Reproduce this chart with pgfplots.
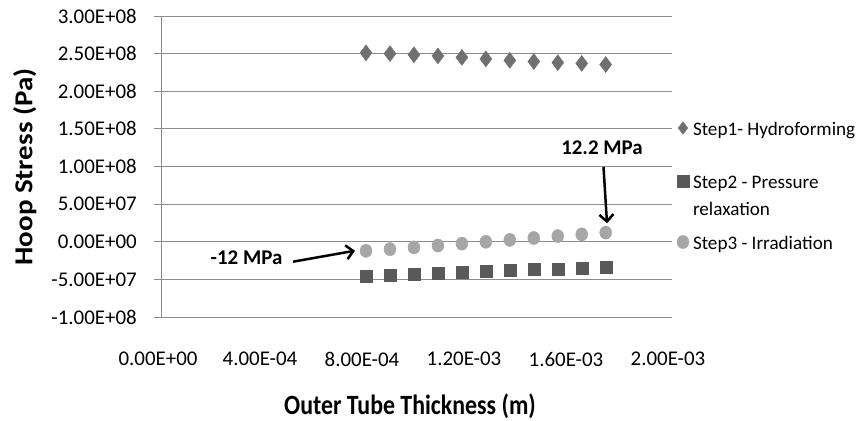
\documentclass[border=0pt]{standalone}
\usepackage{pgfplots}
\pgfplotsset{compat=1.18}
\usepackage{fontspec}
\setmainfont{Carlito}
\usetikzlibrary{arrows.meta}
\definecolor{gridc}{RGB}{140,140,140}
\definecolor{c1}{RGB}{112,112,112}
\definecolor{c2}{RGB}{89,89,89}
\definecolor{c3}{RGB}{166,166,166}
\pgfplotsset{
  mylegend/.style n args={3}{legend image code/.code={\path[draw=none, fill=none] (0bp,-#2) rectangle (0bp,#3); \draw[##1, #1] plot coordinates {(0bp,7bp)};}},
}
\begin{document}
\begin{tikzpicture}
\begin{axis}[
  at={(0bp,0bp)}, anchor=south west,
  width=510bp, height=301bp, scale only axis,
  xmin=0, xmax=2e-3, ymin=-1e8, ymax=3e8,
  xtick={0,4e-4,8e-4,1.2e-3,1.6e-3,2e-3},
  xticklabels={0.00E+00,4.00E-04,8.00E-04,1.20E-03,1.60E-03,2.00E-03},
  ytick={-1e8,-5e7,0,5e7,1e8,1.5e8,2e8,2.5e8,3e8},
  yticklabels={-1.00E+08,-5.00E+07,0.00E+00,5.00E+07,1.00E+08,1.50E+08,2.00E+08,2.50E+08,3.00E+08},
  scaled ticks=false,
  axis x line*=bottom, axis y line*=left,
  axis line style={gridc, line width=1bp, -},
  ymajorgrids, major grid style={gridc, line width=1bp},
  xtick style={draw=none},
  ytick style={gridc, line width=1bp},
  ytick align=outside, major tick length=8bp,
  tick label style={font=\fontsize{21}{25}\selectfont, text=black},
  yticklabel style={anchor=east, inner sep=0pt, xshift=-17bp},
  xticklabel style={anchor=north, inner sep=0pt, yshift=-35bp, xshift=-4bp},
  clip=false,
  legend style={at={(1,1)}, anchor=north west, xshift=5bp, yshift=-103bp,
    draw=none, fill=none, inner sep=0pt, outer sep=0pt, row sep=0pt,
    font=\fontsize{19.2}{23}\selectfont,
    nodes={inner sep=0pt, outer sep=0pt},
    cells={anchor=base west},
    /tikz/every odd column/.append style={column sep=4bp}},
]
\addplot[only marks, mylegend={mark options={scale=0.8}}{37.5bp}{16bp},
  mark=diamond*, mark size=8bp, color=c1, mark options={draw=c1, fill=c1}]
  coordinates {(8.00e-4,2.51e8)(8.94e-4,2.50e8)(9.88e-4,2.485e8)(1.082e-3,2.47e8)(1.176e-3,2.45e8)(1.27e-3,2.43e8)(1.364e-3,2.41e8)(1.458e-3,2.395e8)(1.552e-3,2.38e8)(1.646e-3,2.37e8)(1.74e-3,2.355e8)};
\addlegendentry{Step1- Hydroforming}
\addplot[only marks, mylegend={}{11bp}{16bp},
  mark=square*, mark size=6bp, color=c2, mark options={draw=c2, fill=c2}]
  coordinates {(8.00e-4,-4.55e7)(8.94e-4,-4.43e7)(9.88e-4,-4.31e7)(1.082e-3,-4.19e7)(1.176e-3,-4.07e7)(1.27e-3,-3.95e7)(1.364e-3,-3.83e7)(1.458e-3,-3.71e7)(1.552e-3,-3.59e7)(1.646e-3,-3.47e7)(1.74e-3,-3.35e7)};
\addlegendentry{Step2 - Pressure}
\addlegendimage{legend image code/.code={\path[draw=none, fill=none] (0bp,-17.5bp) rectangle (0bp,16bp);}}
\addlegendentry{relaxation}
\addplot[only marks, mylegend={}{2bp}{16bp},
  mark=*, mark size=6bp, color=c3, mark options={draw=c3, fill=c3, yscale=1.1}]
  coordinates {(8.00e-4,-1.2e7)(8.94e-4,-9.8e6)(9.88e-4,-7.5e6)(1.082e-3,-5.0e6)(1.176e-3,-2.5e6)(1.27e-3,0)(1.364e-3,2.5e6)(1.458e-3,5.0e6)(1.552e-3,7.5e6)(1.646e-3,9.8e6)(1.74e-3,1.22e7)};
\addlegendentry{Step3 - Irradiation}
\end{axis}
\node[font=\bfseries\fontsize{21}{25}\selectfont] at (84.5bp,59bp) {-12 MPa};
\draw[line width=2.5bp, -{Straight Barb[length=7bp,width=14bp]}] (131bp,55.3bp) -- (193bp,66.3bp);
\node[font=\bfseries\fontsize{21}{25}\selectfont] at (440bp,169bp) {12.2 MPa};
\draw[line width=2.5bp, -{Straight Barb[length=7bp,width=14bp]}] (441.5bp,150bp) -- (445bp,93.7bp);
\node[rotate=90, anchor=base, font=\bfseries\fontsize{26}{30}\selectfont] at (-129.7bp,150bp) {\scalebox{1.12}[1]{Hoop Stress (Pa)}};
\node[anchor=base, font=\bfseries\fontsize{28}{32}\selectfont] at (248bp,-97bp) {\scalebox{0.855}[1]{Outer Tube Thickness (m)}};
\pgfresetboundingbox
\path (-162bp,-104bp) rectangle (697bp,317bp);
\end{tikzpicture}
\end{document}
